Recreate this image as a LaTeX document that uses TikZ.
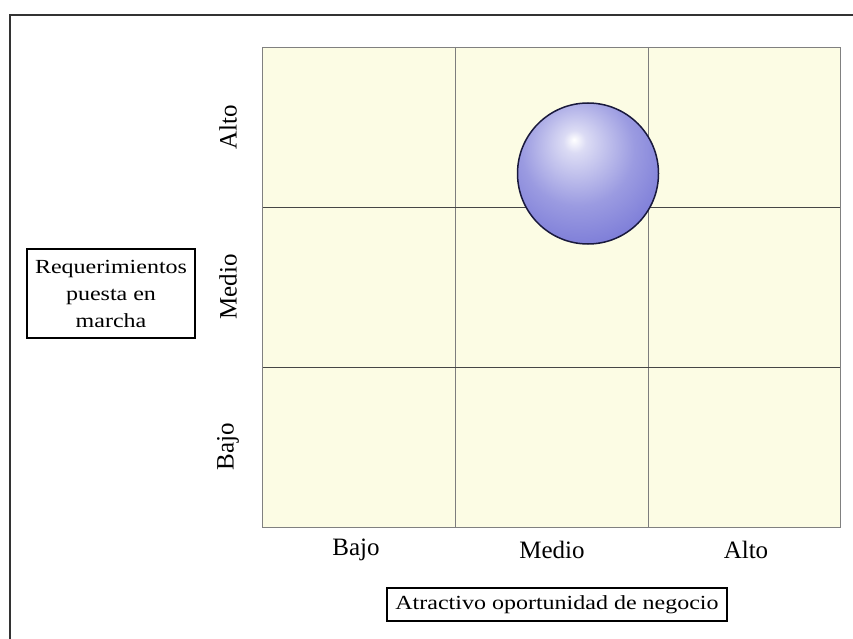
\documentclass[tikz,border=0pt]{standalone}
\usepackage{fontspec}
\setmainfont{Liberation Serif}
\newfontfamily\widefont[FakeStretch=1.2]{Liberation Serif}
\usetikzlibrary{positioning}

\definecolor{cellfill}{RGB}{252,252,228}
\definecolor{spherebase}{RGB}{112,112,212}
\definecolor{sphereedge}{RGB}{25,25,60}
\definecolor{gridline}{RGB}{70,70,70}
\pgfdeclareradialshading{spherelight}{\pgfpoint{-5bp}{12bp}}{%
  color(0bp)=(white); color(4bp)=(spherebase!25!white);
  color(20bp)=(spherebase!70!white); color(38bp)=(spherebase);
  color(52bp)=(spherebase!85!black); color(70bp)=(spherebase!65!black)}

\begin{document}
\begin{tikzpicture}[x=1pt,y=-1pt,
  axislbl/.style={font=\fontsize{25}{25}\selectfont,inner sep=0pt},
  boxlbl/.style={draw,line width=1.5pt,align=center,inner sep=2pt,
    font=\widefont\fontsize{20}{27}\selectfont}]
\useasboundingbox (0,0) rectangle (853,639);
% outer frame
\draw[line width=2.5pt,black!80] (10,680) |- (880,15);
% grid
\fill[cellfill] (262,47) rectangle (840,527);
\foreach \x in {455,648}
	\draw[gridline!70] (\x,47) -- (\x,527);
\foreach \y in {207,367}
	\draw[gridline] (262,\y) -- (840,\y);
\draw[gray] (262,47) rectangle (840,527);
% sphere
\node[circle,minimum size=141pt,shading=spherelight,draw=sphereedge,line width=1.5pt](bubble) at (588,173.5) {};
% row labels
\node[axislbl,rotate=90](rowhigh) at (228,127) {Alto};
\node[axislbl,rotate=90](rowmid)  at (228,287) {Medio};
\node[axislbl,rotate=90](rowlow)  at (228,447) {Bajo};
% column labels
\node[axislbl](collow)  at (356,550) {Bajo};
\node[axislbl](colmid)  at (552,550) {Medio};
\node[axislbl](colhigh) at (746,550) {Alto};
% axis titles
\node[boxlbl,minimum width=168pt,minimum height=89pt](reqbox) at (111,293.5)
	{Requerimientos\\puesta en\\marcha};
\node[boxlbl,minimum width=340pt,minimum height=33pt](atrbox) at (557,604.5)
	{Atractivo oportunidad de negocio};
\end{tikzpicture}
\end{document}
